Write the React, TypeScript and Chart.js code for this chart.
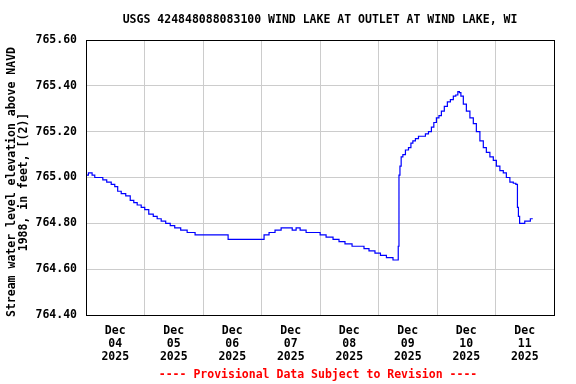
import React, { useEffect, useRef } from 'react';
import { Chart, registerables } from 'chart.js';

Chart.register(...registerables);

const TITLE = 'USGS 424848088083100 WIND LAKE AT OUTLET AT WIND LAKE, WI';
const Y_TITLE = ['Stream water level elevation above NAVD', '1988, in feet, [(2)]'];
const FOOTER = '---- Provisional Data Subject to Revision ----';

const tickMonth = 'Dec';
const tickDays = ['04', '05', '06', '07', '08', '09', '10', '11'];
const tickYear = '2025';

const yMin = 764.4;
const yMax = 765.6;
const yStep = 0.2;

// hours since Dec 04 2025 00:00
const hours = [
  0, 2, 3, 4.2, 6.3, 7.5, 9.5, 11.2, 12.4, 13.6, 15.3, 17.3, 19, 20.2, 21.8, 23.5,
  24.7, 26.8, 28.4, 30, 31.7, 33.7, 35.4, 37.4, 40.3, 42.7, 46.8, 50.9, 53.8, 57,
  59.6, 63.2, 67.3, 72.2, 73.9, 76.3, 78.8, 81.3, 83.8, 85.4, 87, 88.7, 91.9, 95.2,
  96.9, 100.1, 102.6, 105, 107.5, 110.8, 113.2, 114.9, 117.3, 119.8, 121.8, 124.7,
  127.2, 128, 128.2, 128.6, 129, 129.6, 130.4, 131.7, 132.9, 133.7, 134.5, 135.8,
  137, 138.6, 139.9, 141.1, 142.3, 143.1, 144.4, 145.2, 146.4, 147.6, 148.9, 150.1,
  151.3, 152.1, 153, 153.4, 154.2, 155.4, 156.7, 158.3, 159.5, 160.8, 162.4, 163.6,
  164.9, 166.5, 167.7, 169, 170.6, 171.8, 173.1, 174.7, 175.9, 176.8, 177.2, 177.6,
  178.2, 179.6, 180.4, 182.1, 182.5, 183.3,
];

const elevation = [
  765.01, 765.02, 765.01, 765.0, 765.0, 764.99, 764.98, 764.97, 764.96, 764.94, 764.93, 764.92, 764.9, 764.89, 764.88, 764.87,
  764.86, 764.84, 764.83, 764.82, 764.81, 764.8, 764.79, 764.78, 764.77, 764.76, 764.75, 764.75, 764.75, 764.75,
  764.73, 764.73, 764.73, 764.73, 764.75, 764.76, 764.77, 764.78, 764.78, 764.77, 764.78, 764.77, 764.76, 764.76,
  764.75, 764.74, 764.73, 764.72, 764.71, 764.7, 764.7, 764.69, 764.68, 764.67, 764.66, 764.65,
  764.64, 764.64, 764.7, 765.01, 765.05, 765.09, 765.1, 765.12, 765.13, 765.15, 765.16, 765.17,
  765.18, 765.18, 765.19, 765.2, 765.22, 765.24, 765.26, 765.27, 765.29, 765.31, 765.33, 765.34,
  765.355, 765.36, 765.375, 765.37, 765.355, 765.32, 765.29, 765.26, 765.235, 765.2, 765.16, 765.13,
  765.11, 765.09, 765.075, 765.05, 765.03, 765.02, 765.0, 764.98, 764.975, 764.97, 764.87, 764.83,
  764.8, 764.8, 764.81, 764.81, 764.82, 764.82,
];

const FONT = '"DejaVu Sans Mono", monospace';
const FONT_SIZE = 11.5;

const decorPlugin = {
  id: 'decor',
  afterDraw(chart: any) {
    const { ctx, chartArea } = chart;
    ctx.save();
    // border
    ctx.strokeStyle = '#000000';
    ctx.lineWidth = 1;
    ctx.strokeRect(
      Math.round(chartArea.left) + 0.5,
      Math.round(chartArea.top) + 0.5,
      Math.round(chartArea.right - chartArea.left),
      Math.round(chartArea.bottom - chartArea.top)
    );
    const cx = (chartArea.left + chartArea.right) / 2;
    ctx.font = `bold ${FONT_SIZE}px ${FONT}`;
    ctx.textAlign = 'center';
    ctx.textBaseline = 'middle';
    ctx.fillStyle = '#000000';
    ctx.fillText(TITLE, cx, 20);
    ctx.fillStyle = '#ff0000';
    ctx.fillText(FOOTER, cx - 2, 375);
    // y-axis title
    ctx.fillStyle = '#000000';
    ctx.translate(0, 182);
    ctx.rotate(-Math.PI / 2);
    ctx.fillText(Y_TITLE[0], 0, 12);
    ctx.fillText(Y_TITLE[1], 0, 24);
    ctx.restore();
  },
};

export default function App() {
  const ref = useRef<HTMLCanvasElement>(null);
  useEffect(() => {
    document.body.style.margin = '0';
    const canvas = ref.current!;
    const points = hours.map((h, i) => ({ x: h, y: elevation[i] }));
    const chart = new Chart(canvas, {
      type: 'line',
      data: {
        datasets: [
          {
            data: points,
            borderColor: '#0000ff',
            borderWidth: 1.2,
            pointRadius: 0,
            fill: false,
            stepped: 'middle',
          },
        ],
      },
      options: {
        animation: false,
        responsive: false,
        events: [],
        layout: { padding: { left: 0, right: 22, top: 40, bottom: 0 } },
        plugins: {
          legend: { display: false },
          title: { display: false },
          tooltip: { enabled: false },
        },
        scales: {
          x: {
            type: 'linear',
            min: 0,
            max: tickDays.length * 24,
            afterFit: (s: any) => {
              s.height = 69;
            },
            afterBuildTicks: (s: any) => {
              const t = [];
              for (let v = 0; v <= tickDays.length * 24; v += 12) t.push({ value: v });
              s.ticks = t;
            },
            border: { display: false },
            grid: {
              drawTicks: false,
              color: (c: any) =>
                c.tick && c.tick.value % 24 === 0 ? '#cccccc' : 'rgba(0,0,0,0)',
              lineWidth: 1,
            },
            ticks: {
              autoSkip: false,
              maxRotation: 0,
              minRotation: 0,
              padding: 10,
              color: '#000000',
              font: { family: FONT, size: FONT_SIZE, weight: 'bold', lineHeight: 1.12 },
              callback: (v: any) => {
                const n = Number(v);
                if (n % 24 !== 12) return '';
                const idx = Math.floor(n / 24);
                return [tickMonth, tickDays[idx], tickYear];
              },
            },
          },
          y: {
            type: 'linear',
            min: yMin,
            max: yMax,
            afterFit: (s: any) => {
              s.width = 86;
            },
            border: { display: false },
            grid: { drawTicks: false, color: '#cccccc', lineWidth: 1 },
            ticks: {
              stepSize: yStep,
              padding: 9,
              color: '#000000',
              font: { family: FONT, size: FONT_SIZE, weight: 'bold' },
              callback: (v: any) => Number(v).toFixed(2),
            },
          },
        },
      },
      plugins: [decorPlugin],
    });
    return () => chart.destroy();
  }, []);
  return (
    <div style={{ width: 576, height: 384, background: '#ffffff' }}>
      <canvas ref={ref} width={576} height={384} />
    </div>
  );
}
